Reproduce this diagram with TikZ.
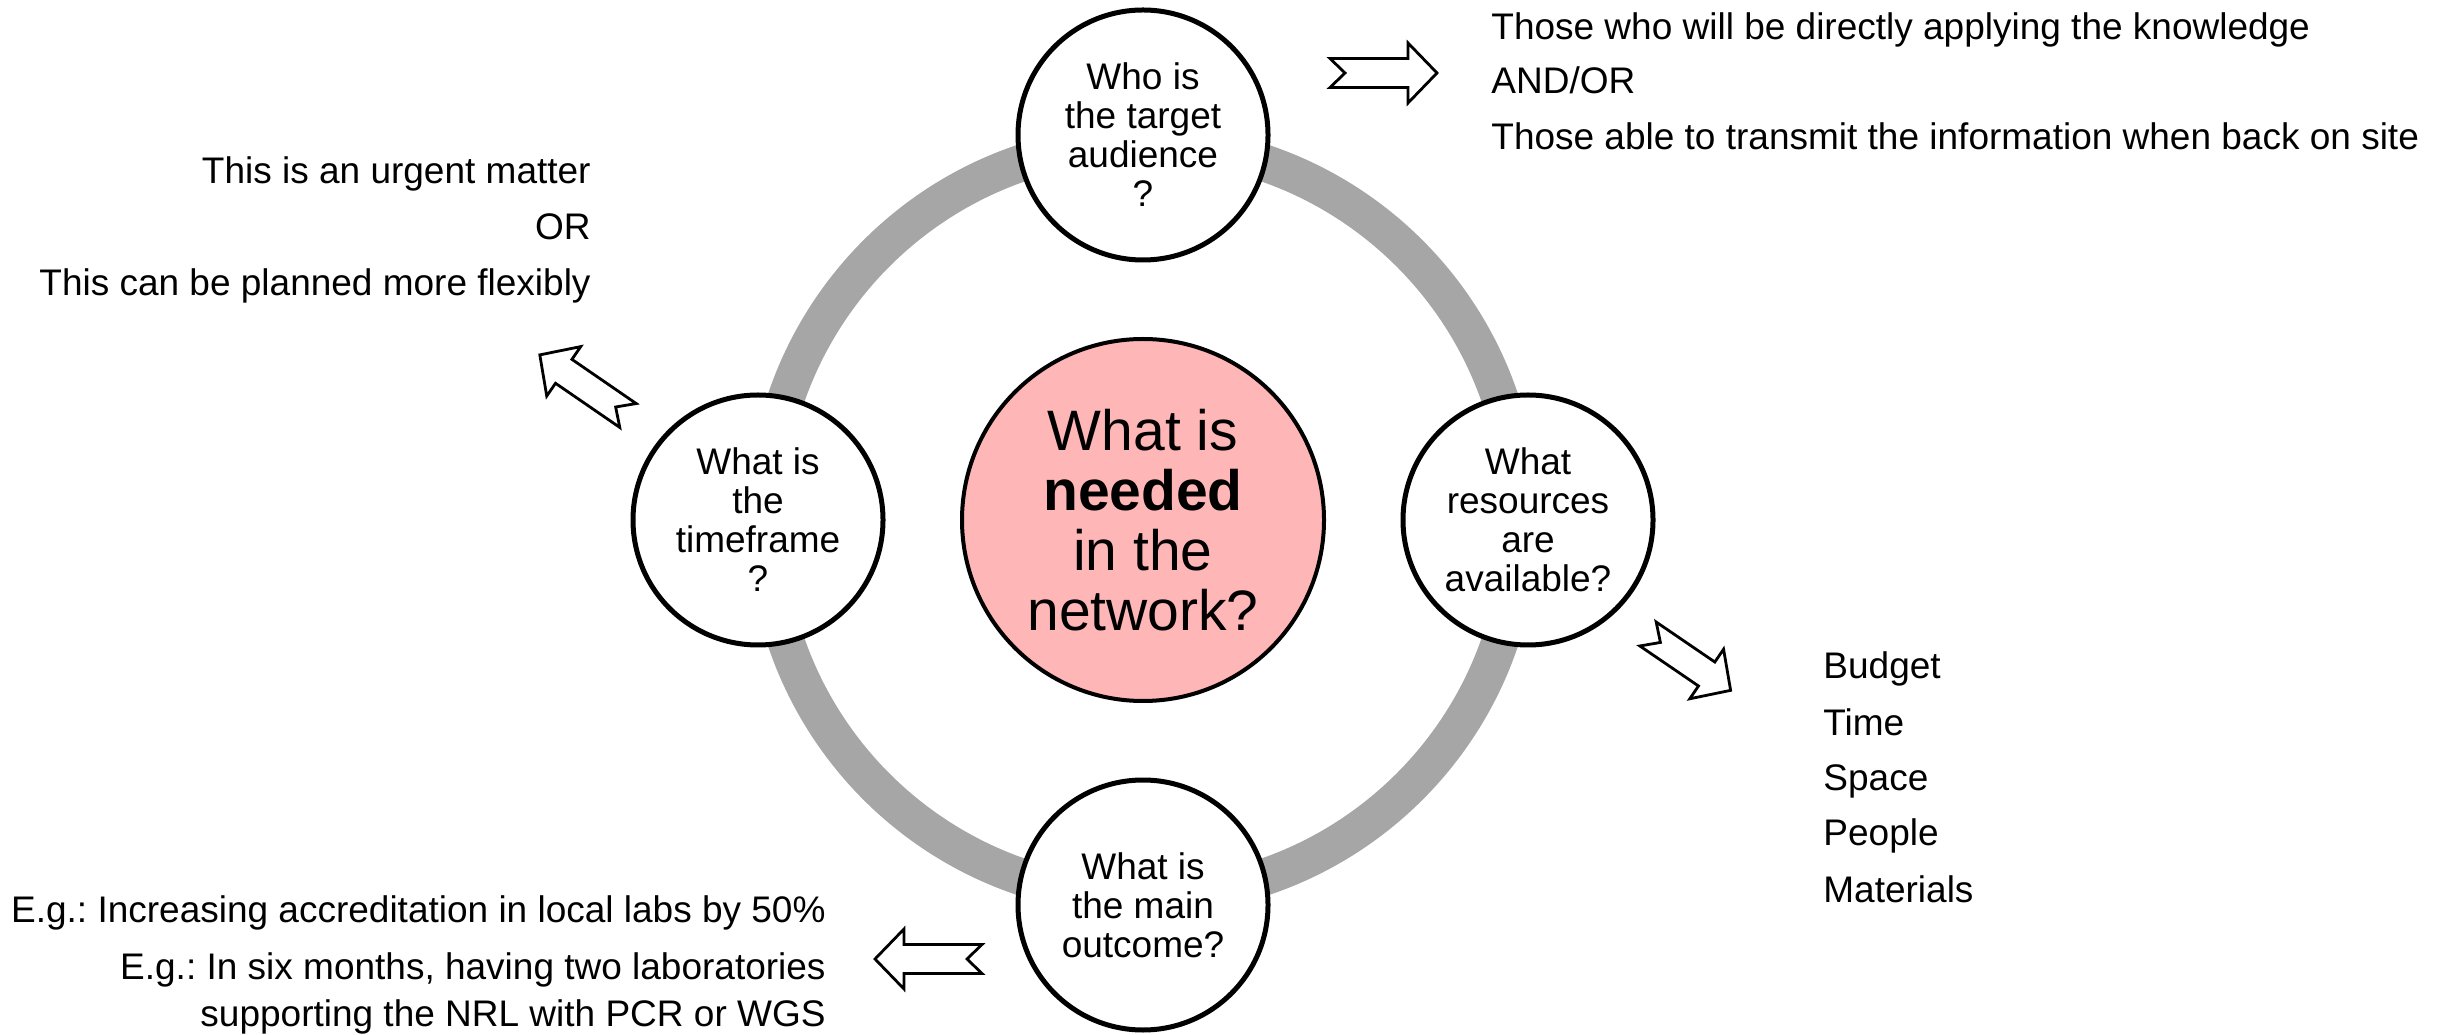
\documentclass[tikz,border=0pt]{standalone}
\usepackage{fontspec}
\setmainfont{Liberation Sans}
\frenchspacing
\definecolor{ringgray}{RGB}{166,166,166}
\definecolor{hubpink}{RGB}{255,182,182}
\begin{document}
\begin{tikzpicture}[x=0.5pt,y=0.5pt,
  ring/.style={draw=ringgray,line width=18.5pt},
  hub/.style={circle,draw,line width=2pt,fill=hubpink,minimum size=181pt,
    inner sep=0pt,align=center,font=\fontsize{28.5}{30}\selectfont},
  question/.style={circle,draw,line width=2.5pt,fill=white,minimum size=125pt,
    inner sep=0pt,align=center,font=\fontsize{18.5}{19.5}\selectfont},
  note/.style={inner sep=0pt,font=\fontsize{18.5}{22}\selectfont},
  blockarrow/.style={draw,line width=1.4pt,fill=white,line join=miter},
  pics/notcharrow/.style={code={
    \draw[blockarrow] (0,14.5) -- (15,0) -- (0,-14.5) -- ({#1-29},-14.5)
      -- ({#1-29},-30) -- (#1,0) -- ({#1-29},30) -- ({#1-29},14.5) -- cycle;}}
]
\useasboundingbox (0,0) rectangle (2440,1034);

% grey cycle behind the four questions
\coordinate (c) at (1143,514);
\draw[ring] (c) circle[radius=188.5pt];

% central question
\node[hub] (hub) at (c) {What is\\\textbf{needed}\\in the\\network?};

% the four questions on the cycle
\node[question] (aud) at (1143,899) {Who is\\the target\\audience\\?};
\node[question] (res) at (1528,514) {What\\resources\\are\\available?};
\node[question] (out) at (1143,129) {What is\\the main\\outcome?};
\node[question] (tim) at (758,514) {What is\\the\\timeframe\\?};

% block arrows pointing to the answers
\pic[rotate=0] at (1330,961) {notcharrow=107};
\pic[rotate=145.5] at (628,618.5) {notcharrow=107};
\pic[rotate=-34.3] at (1648,400) {notcharrow=100};
\pic[rotate=180] at (982,75) {notcharrow=107};

% target audience
\node[note,anchor=base west] (aud1) at (1491,994) {Those who will be directly applying the knowledge};
\node[note,anchor=base west] (aud2) at (1491,940) {AND/OR};
\node[note,anchor=base west] (aud3) at (1491,884) {Those able to transmit the information when back on site};

% timeframe
\node[note,anchor=base east] (tim1) at (591,850) {This is an urgent matter};
\node[note,anchor=base east] (tim2) at (591,794) {OR};
\node[note,anchor=base east] (tim3) at (591,738) {This can be planned more flexibly};

% resources
\node[note,anchor=base west] (res1) at (1823,355) {Budget};
\node[note,anchor=base west] (res2) at (1823,299) {Time};
\node[note,anchor=base west] (res3) at (1823,244) {Space};
\node[note,anchor=base west] (res4) at (1823,189) {People};
\node[note,anchor=base west] (res5) at (1823,132) {Materials};

% outcome
\node[note,anchor=base east] (out1) at (826,112) {E.g.: Increasing accreditation in local labs by 50\%};
\node[note,anchor=base east] (out2) at (826,55) {E.g.: In six months, having two laboratories};
\node[note,anchor=base east] (out3) at (826,8) {supporting the NRL with PCR or WGS};
\end{tikzpicture}
\end{document}
